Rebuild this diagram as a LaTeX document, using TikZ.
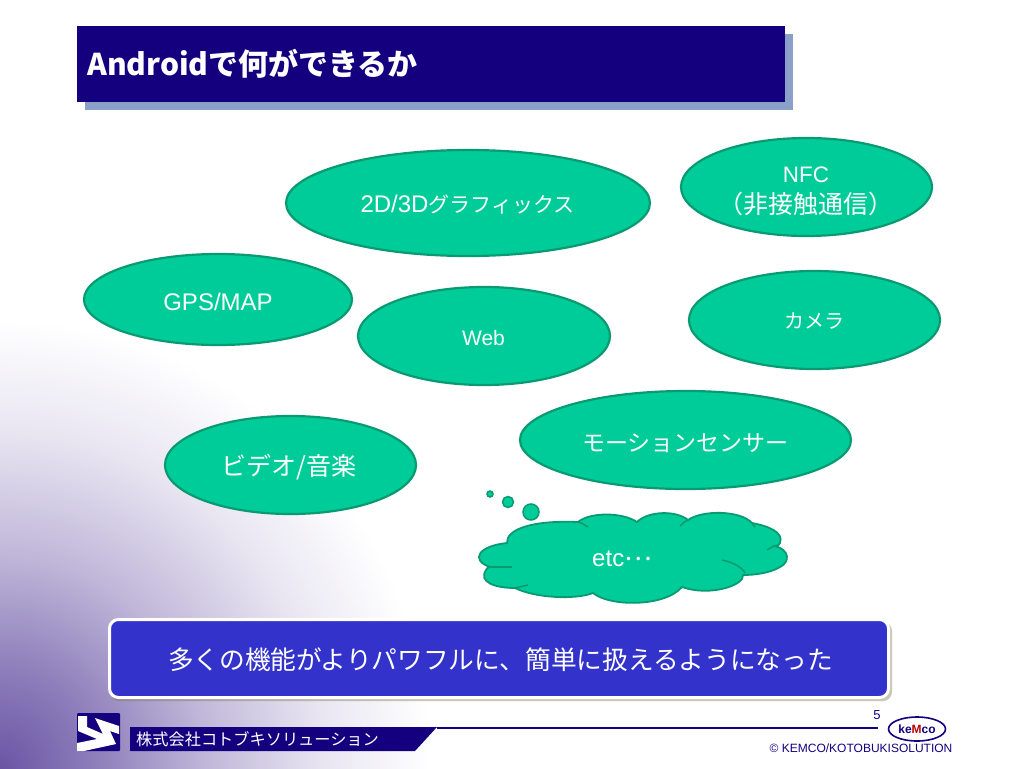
\documentclass[tikz,border=0pt]{standalone}
\usepackage{fontspec}
\setmainfont{Noto Sans CJK JP}
\newfontfamily\latinf{Liberation Sans}
\usetikzlibrary{shapes.geometric}
\definecolor{navy}{HTML}{14007F}
\definecolor{titleshadow}{HTML}{8AA0C8}
\definecolor{bubble}{HTML}{00CC99}
\definecolor{bubbleedge}{HTML}{0A9A72}
\definecolor{royal}{HTML}{3333CC}
\definecolor{purp}{HTML}{6A55A5}
\pgfdeclareradialshading{bgshade}{\pgfpoint{0bp}{0bp}}{color(0bp)=(purp);color(5.5bp)=(purp!75!white);color(11.5bp)=(purp!42!white);color(18bp)=(purp!15!white);color(24bp)=(white);color(50bp)=(white)}
\newcommand{\sz}[1]{\fontsize{#1}{#1}\selectfont}
\tikzset{
 oval/.style={ellipse,draw=bubbleedge,fill=bubble,line width=2.2pt,inner sep=0pt},
 lab/.style={text=white,inner sep=0pt,anchor=center},
 dot/.style={circle,draw=bubbleedge,fill=bubble,line width=1.5pt,inner sep=0pt},
 seam/.style={draw=bubbleedge,line width=1.5pt}
}
\begin{document}
\begin{tikzpicture}[x=1pt,y=-1pt]
\useasboundingbox (0,0) rectangle (1024,768);
\fill[white] (0,0) rectangle (1024,768);
\begin{scope}
\clip (0,0) rectangle (1024,768);
\shade[shading=bgshade] (-450,300) rectangle (450,1236);
\end{scope}
% title
\fill[titleshadow] (85,34) rectangle (793,110);
\node[fill=navy,minimum width=708pt,minimum height=76pt,inner sep=0pt,anchor=north west] (title) at (77,26) {};
\node[anchor=west,text=white,font=\bfseries\sz{30},inner sep=0pt] (titletext) at (87,64) {Androidで何ができるか};
% ovals
\node[oval,minimum width=364pt,minimum height=106pt] (gfx) at (468,203) {};
\node[oval,minimum width=251pt,minimum height=98pt] (nfc) at (806.5,187) {};
\node[oval,minimum width=268pt,minimum height=91pt] (gps) at (218,299.5) {};
\node[oval,minimum width=252pt,minimum height=98pt] (web) at (484,336) {};
\node[oval,minimum width=251pt,minimum height=98pt] (cam) at (814.5,320) {};
\node[oval,minimum width=331pt,minimum height=98pt] (mot) at (685.5,440) {};
\node[oval,minimum width=251pt,minimum height=98pt] (vid) at (290.5,465) {};
\node[lab] (gfxt) at (467.5,204) {\latinf\sz{24}2D/3D\normalfont\sz{21}グラフィックス};
\node[lab,font=\latinf\sz{22.4}] (nfct1) at (806,175) {NFC};
\node[lab,font=\sz{25}] (nfct2) at (806,204) {（非接触通信）};
\node[lab,font=\latinf\sz{24}] (gpst) at (218,302) {GPS/MAP};
\node[lab,font=\latinf\sz{21}] (webt) at (483.5,338) {Web};
\node[lab,font=\sz{20}] (camt) at (814.5,321) {カメラ};
\node[lab,font=\sz{23}] (mott) at (685.5,443) {モーションセンサー};
\node[lab,font=\sz{25}] (vidt) at (289,467) {ビデオ/音楽};
% thought bubbles
\node[dot,minimum size=6pt] (d1) at (490,494) {};
\node[dot,minimum size=11pt] (d2) at (508,502) {};
\node[dot,minimum size=16pt] (d3) at (531,512) {};
% cloud
\draw[bubbleedge,fill=bubble,line width=1.8pt]
 (507,543) .. controls (506,530) and (530,520) .. (578,522)
 .. controls (590,512) and (622,512) .. (637,522)
 .. controls (648,511) and (676,510) .. (688,520)
 .. controls (702,510) and (740,510) .. (752,523)
 .. controls (768,526) and (784,532) .. (780,543)
 .. controls (780,545) and (778,545) .. (775,546)
 .. controls (790,550) and (790,562) .. (780,567)
 .. controls (770,573) and (755,575) .. (743,575)
 .. controls (745,585) and (710,597) .. (682,587)
 .. controls (665,607) and (610,607) .. (593,593)
 .. controls (575,600) and (535,598) .. (515,588)
 .. controls (495,588) and (478,582) .. (486,570)
 .. controls (487,568) and (488,567) .. (490,567)
 .. controls (470,560) and (478,546) .. (507,543) -- cycle;
\draw[seam] (578,522) .. controls (582,523) and (585,525) .. (588,527);
\draw[seam] (688,520) .. controls (684,522) and (682,524) .. (680,526);
\draw[seam] (752,523) .. controls (753,525) and (754,526) .. (755,527);
\draw[seam] (775,546) .. controls (771,547) and (769,549) .. (767,550);
\draw[seam] (722,560) .. controls (732,562) and (742,567) .. (745,573);
\draw[seam] (490,567) .. controls (496,567) and (505,567) .. (512,567);
\draw[seam] (515,588) .. controls (519,587) and (524,586) .. (528,585);
\node[lab] (etc) at (622,559) {\latinf\sz{24}etc\raisebox{6pt}{\normalfont\sz{26}…}};
% message
\fill[black!60!yellow,opacity=.4,rounded corners=9pt] (110,622) rectangle (892,701);
\node[rounded corners=9pt,draw=white,fill=royal,line width=3pt,minimum width=779pt,minimum height=78pt,inner sep=0pt] (msg) at (499,658.5) {};
\node[lab,font=\sz{25.7}] (msgt) at (500.5,660) {多くの機能がよりパワフルに、簡単に扱えるようになった};
% footer
\coordinate (lineend) at (878,727.5);
\fill[navy] (130,727) -- (437,727) -- (415,751) -- (130,751) -- cycle;
\draw[navy,line width=2pt] (437,727.5) -- (lineend);
\node[anchor=west,text=white,font=\sz{16.2},inner sep=0pt] (company) at (136,739) {株式会社コトブキソリューション};
\fill[navy,rounded corners=1pt] (77,713) rectangle (120,751);
\fill[white] (78,716) -- (87,716) -- (87,727) -- (103,734) -- (95,718) -- (119,726) -- (119,734) -- (110,731) -- (116,744) -- (84,751) -- (77,751) -- (77,743) -- (97,739) -- (78,731) -- cycle;
\node[text=navy,font=\latinf\sz{13},inner sep=0pt] (page) at (877,715) {5};
\node[ellipse,draw=navy,line width=1.6pt,minimum width=57pt,minimum height=24pt,inner sep=0pt,font=\latinf\bfseries\sz{12},text=navy] (kemco) at (917,729) {ke\textcolor{red!75!black}{M}co};
\node[text=navy,font=\latinf\sz{12},inner sep=0pt] (copy) at (861,748) {© KEMCO/KOTOBUKISOLUTION};
\end{tikzpicture}
\end{document}
